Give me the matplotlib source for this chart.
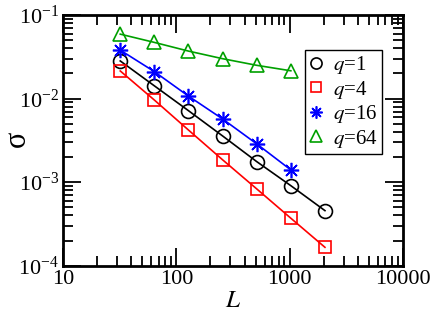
import matplotlib
matplotlib.use("Agg")
import matplotlib.pyplot as plt
import numpy as np
from matplotlib.ticker import LogLocator, NullFormatter
from matplotlib.lines import Line2D

plt.rcParams['font.family'] = ['Liberation Serif', 'DejaVu Serif']
plt.rcParams['mathtext.fontset'] = 'stix'

L = [32, 64, 128, 256, 512, 1024, 2048]
L_q16 = [32, 64, 128, 256, 512, 1024]
L_q64 = [32, 64, 128, 256, 512, 1024]

sigma_q1 = [0.0282, 0.0142, 0.00716, 0.00357, 0.00176, 0.000907, 0.000456]
sigma_q4 = [0.0214, 0.0096, 0.0042, 0.00185, 0.00083, 0.00037, 0.000166]
sigma_q16 = [0.038, 0.021, 0.0107, 0.0057, 0.00287, 0.0014]
sigma_q64 = [0.059, 0.047, 0.037, 0.030, 0.0250, 0.0215]

labels = ['$q$=1', '$q$=4', '$q$=16', '$q$=64']
colors = ['black', 'red', 'blue', '#00a000']
markers = ['o', 's', (8, 2, 0), '^']
msizes = [10, 9, 11, 10]

fig = plt.figure(figsize=(4.36, 3.11), dpi=100)
ax = fig.add_axes([63/436, 1-265.7/311, (403-63)/436, (265.7-15)/311])

lw = 1.2
series = [(L, sigma_q1), (L, sigma_q4), (L_q16, sigma_q16), (L_q64, sigma_q64)]
handles = []
for (x, y), c, m, ms, lab in zip(series, colors, markers, msizes, labels):
    ax.plot(x, y, color=c, lw=lw, marker=m, ms=ms, mfc='none', mec=c, mew=1.2)
    handles.append(Line2D([], [], ls='none', marker=m, ms=ms*0.8, mfc='none', mec=c, mew=1.2, label=lab))

ax.set_xscale('log')
ax.set_yscale('log')
ax.set_xlim(10, 10000)
ax.set_ylim(1e-4, 1e-1)

for s in ax.spines.values():
    s.set_linewidth(2)
ax.tick_params(which='both', direction='in', top=True, right=True, width=1.3)
ax.tick_params(which='major', length=13, labelsize=16, pad=3)
ax.tick_params(which='minor', length=7)
ax.xaxis.set_minor_locator(LogLocator(base=10, subs=np.arange(2, 10)))
ax.yaxis.set_minor_locator(LogLocator(base=10, subs=np.arange(2, 10)))
ax.xaxis.set_minor_formatter(NullFormatter())
ax.yaxis.set_minor_formatter(NullFormatter())

ax.set_xticks([10, 100, 1000, 10000])
ax.set_xticklabels(['10', '100', '1000', '10000'])
ax.set_yticks([1e-4, 1e-3, 1e-2, 1e-1])
ax.set_yticklabels(['$\\mathregular{10^{-4}}$', '$\\mathregular{10^{-3}}$', '$\\mathregular{10^{-2}}$', '$\\mathregular{10^{-1}}$'])

ax.set_xlabel('$L$', fontsize=18)
ax.xaxis.set_label_coords((233-63)/340, -(290-265.7)/250.7)
fig.text(3/436, 1-139/311, 'σ', rotation=90, ha='left', va='center', fontsize=22)

leg = ax.legend(handles=handles, loc='upper right', bbox_to_anchor=((382-63)/340, (265.7-50)/250.7),
                fontsize=15, frameon=True, fancybox=False, edgecolor='black', framealpha=1,
                borderpad=0.2, labelspacing=0.12, handlelength=0.7, handletextpad=0.45,
                borderaxespad=0)
leg.get_frame().set_linewidth(1.0)

fig.savefig('out.png', dpi=100)
